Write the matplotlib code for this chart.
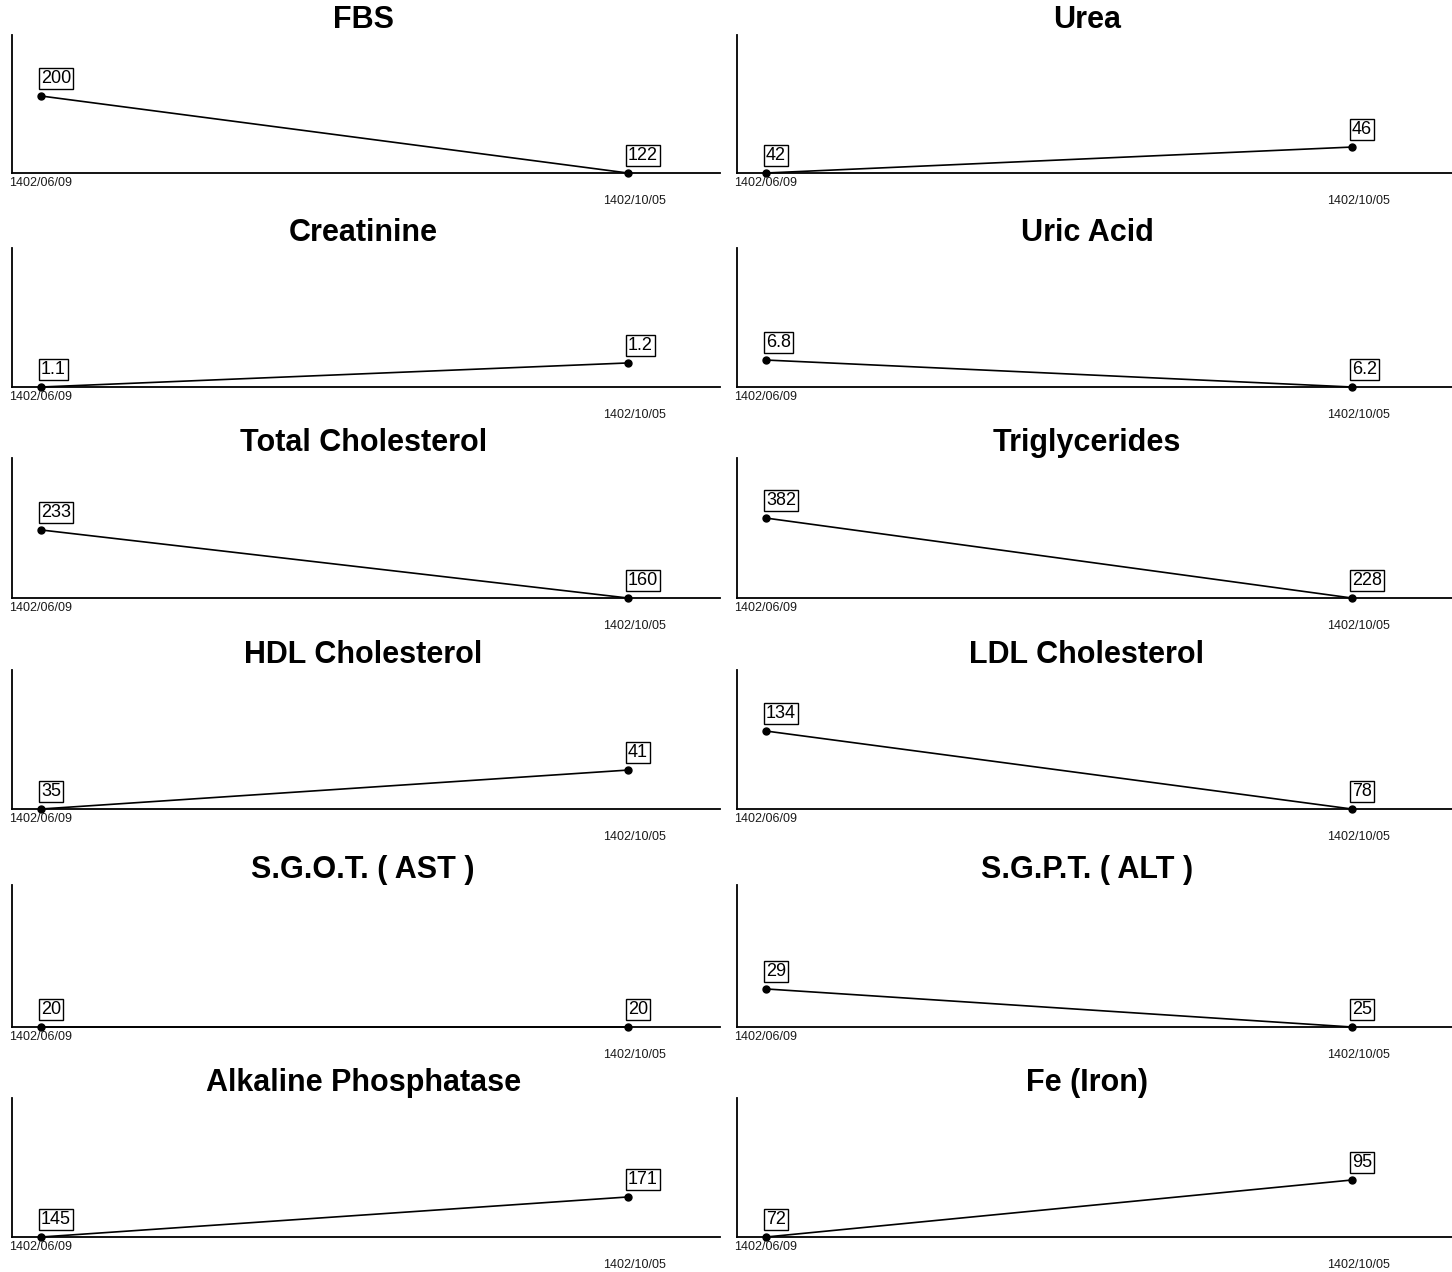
import matplotlib
matplotlib.use("Agg")
import matplotlib.pyplot as plt

# Testnavne og måleværdier (to datoer)
tests = ["FBS", "Urea", "Creatinine", "Uric Acid", "Total Cholesterol", "Triglycerides",
         "HDL Cholesterol", "LDL Cholesterol", "S.G.O.T. ( AST )", "S.G.P.T. ( ALT )",
         "Alkaline Phosphatase", "Fe (Iron)"]
dates = ["1402/06/09", "1402/10/05"]
value_first = [200, 42, 1.1, 6.8, 233, 382, 35, 134, 20, 29, 145, 72]
value_second = [122, 46, 1.2, 6.2, 160, 228, 41, 78, 20, 25, 171, 95]
value_labels_first = ["200", "42", "1.1", "6.8", "233", "382", "35", "134", "20", "29", "145", "72"]
value_labels_second = ["122", "46", "1.2", "6.2", "160", "228", "41", "78", "20", "25", "171", "95"]

# hvor højt max-punktet ligger i panelet (andel af aksehøjde)
peak_frac = [0.558, 0.188, 0.173, 0.194, 0.486, 0.571, 0.28, 0.561, 0.0, 0.268, 0.288, 0.41]

W, H = 1452, 1272
fig = plt.figure(figsize=(W / 100, H / 100), dpi=100)

col_x = [(12, 708), (737, 715)]
col_xlim = [(-0.0495, 1.157), (-0.0495, 1.171)]
col_title_x = [0.496, 0.4895]
rows = [(35, 173), (248, 387), (458, 598), (670, 809), (885, 1027), (1098, 1237)]

for i, name in enumerate(tests):
    r, c = divmod(i, 2)
    x0, w = col_x[c]
    top, bot = rows[r]
    ax = fig.add_axes([x0 / W, 1 - bot / H, w / W, (bot - top) / H])

    vals = [value_first[i], value_second[i]]
    lo, hi = min(vals), max(vals)
    if hi > lo and peak_frac[i] > 0:
        ax.set_ylim(lo, lo + (hi - lo) / peak_frac[i])
    else:
        ax.set_ylim(lo, lo + 1)
    ax.set_xlim(*col_xlim[c])

    ax.plot([0, 1], vals, color="black", lw=1.2, marker="o", ms=5, clip_on=False, zorder=3)

    labs = [value_labels_first[i], value_labels_second[i]]
    for xi, (v, lab) in enumerate(zip(vals, labs)):
        ax.annotate(lab, (xi, v), xytext=(0, 9), textcoords="offset pixels",
                    ha="left", va="bottom", fontsize=13, family="Liberation Sans",
                    bbox=dict(boxstyle="square,pad=0.12", fc="white", ec="black", lw=1),
                    zorder=4)

    # datoer under x-aksen, den anden forskudt nedad
    for xi, d in enumerate(dates):
        ax.annotate(d, (xi, 0), xycoords=("data", "axes fraction"),
                    xytext=(7 * xi, -4 - 18 * xi), textcoords="offset pixels",
                    ha="center", va="top", fontsize=9, family="Liberation Sans",
                    color="#1a1a1a")

    ax.set_title(name, fontsize=22, fontweight="bold", family="Liberation Sans",
                 pad=1, x=col_title_x[c])
    ax.spines["top"].set_visible(False)
    ax.spines["right"].set_visible(False)
    ax.spines["left"].set_linewidth(1.3)
    ax.spines["bottom"].set_linewidth(1.3)
    ax.set_xticks([])
    ax.set_yticks([])

fig.savefig("out.png", dpi=100)
